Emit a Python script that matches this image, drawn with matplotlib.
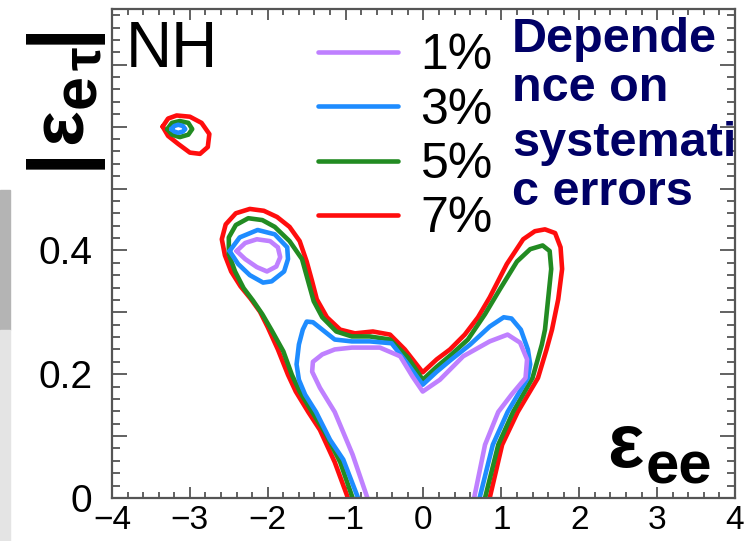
import matplotlib
matplotlib.use("Agg")
import matplotlib.pyplot as plt
from matplotlib.ticker import MultipleLocator
from matplotlib.patches import Rectangle

plt.rcParams['font.family'] = ['Liberation Sans', 'DejaVu Sans']

# contour outlines: x = eps_ee, y = |eps_etau|
red_x = [-0.97, -1.14, -1.33, -1.48, -1.64, -1.74, -1.87, -2.00, -2.10, -2.22, -2.35, -2.47, -2.55,
         -2.59, -2.54, -2.41, -2.23, -2.05, -1.88, -1.72, -1.59, -1.50, -1.43, -1.37, -1.24, -1.07,
         -0.88, -0.65, -0.43, -0.24, -0.01, 0.17, 0.34, 0.53, 0.70, 0.85, 1.07, 1.28, 1.43, 1.56,
         1.69, 1.76, 1.78, 1.73, 1.65, 1.58, 1.47, 1.21, 1.01, 0.85]
red_y = [0.000, 0.058, 0.110, 0.139, 0.172, 0.199, 0.240, 0.276, 0.301, 0.322, 0.342, 0.366, 0.392,
         0.418, 0.442, 0.460, 0.467, 0.464, 0.454, 0.438, 0.415, 0.382, 0.350, 0.321, 0.292, 0.272,
         0.266, 0.269, 0.264, 0.240, 0.203, 0.224, 0.240, 0.264, 0.292, 0.324, 0.378, 0.418, 0.431,
         0.434, 0.428, 0.405, 0.370, 0.321, 0.272, 0.240, 0.194, 0.139, 0.086, 0.000]

green_x = [-0.91, -1.07, -1.27, -1.43, -1.59, -1.69, -1.80, -1.95, -2.07, -2.19, -2.31, -2.42, -2.50,
           -2.50, -2.41, -2.25, -2.07, -1.91, -1.72, -1.56, -1.47, -1.41, -1.30, -1.12, -0.92, -0.69,
           -0.43, -0.20, -0.01, 0.17, 0.36, 0.57, 0.79, 0.98, 1.20, 1.37, 1.53, 1.62, 1.64, 1.60,
           1.56, 1.52, 1.40, 1.15, 0.96, 0.79]
green_y = [0.000, 0.058, 0.107, 0.139, 0.172, 0.199, 0.237, 0.271, 0.297, 0.319, 0.339, 0.366, 0.394,
           0.421, 0.441, 0.452, 0.449, 0.438, 0.415, 0.386, 0.345, 0.318, 0.292, 0.269, 0.261, 0.261,
           0.256, 0.227, 0.191, 0.212, 0.232, 0.256, 0.297, 0.337, 0.382, 0.402, 0.408, 0.399, 0.370,
           0.321, 0.272, 0.248, 0.194, 0.139, 0.086, 0.000]

blue_x = [-0.84, -1.03, -1.20, -1.38, -1.52, -1.60, -1.63, -1.60, -1.55, -1.50, -1.42, -1.30, -1.14,
          -0.92, -0.69, -0.41, -0.20, -0.01, 0.17, 0.36, 0.60, 0.85, 1.03, 1.13, 1.25, 1.34, 1.37,
          1.34, 1.08, 0.89, 0.72]
blue_y = [0.000, 0.062, 0.094, 0.139, 0.167, 0.191, 0.216, 0.248, 0.272, 0.285, 0.284, 0.272, 0.256,
          0.253, 0.253, 0.250, 0.216, 0.183, 0.204, 0.224, 0.248, 0.277, 0.292, 0.290, 0.272, 0.240,
          0.216, 0.194, 0.139, 0.086, 0.000]

purple_x = [-0.72, -0.91, -1.14, -1.33, -1.43, -1.42, -1.30, -1.14, -0.92, -0.56, -0.30, -0.14,
            -0.01, 0.21, 0.51, 0.85, 1.08, 1.24, 1.33, 1.31, 1.13, 0.96, 0.79, 0.65]
purple_y = [0.000, 0.070, 0.139, 0.178, 0.204, 0.220, 0.232, 0.240, 0.243, 0.243, 0.229, 0.196,
            0.172, 0.191, 0.229, 0.253, 0.264, 0.251, 0.224, 0.194, 0.167, 0.139, 0.086, 0.000]

# closed islands near (-2.2, 0.4)
blue_isl_x = [-2.49, -2.36, -2.13, -1.91, -1.75, -1.74, -1.79, -1.95, -2.06, -2.23, -2.38, -2.49]
blue_isl_y = [0.399, 0.421, 0.433, 0.426, 0.405, 0.386, 0.366, 0.350, 0.348, 0.360, 0.378, 0.399]
purple_isl_x = [-2.40, -2.29, -2.14, -1.97, -1.87, -1.84, -1.89, -2.01, -2.14, -2.29, -2.40]
purple_isl_y = [0.399, 0.412, 0.418, 0.415, 0.405, 0.389, 0.374, 0.366, 0.373, 0.386, 0.399]

# small islands near (-3.1, 0.6)
red_isl_x = [-3.35, -3.28, -3.17, -3.00, -2.85, -2.75, -2.77, -2.87, -3.00, -3.15, -3.28, -3.35]
red_isl_y = [0.600, 0.613, 0.618, 0.616, 0.606, 0.588, 0.567, 0.556, 0.558, 0.572, 0.585, 0.600]
green_isl_x = [-3.29, -3.23, -3.13, -3.02, -2.97, -3.02, -3.13, -3.23, -3.29]
green_isl_y = [0.596, 0.606, 0.609, 0.606, 0.596, 0.587, 0.583, 0.587, 0.596]
blue_isl2_x = [-3.24, -3.20, -3.15, -3.09, -3.06, -3.09, -3.15, -3.20, -3.24]
blue_isl2_y = [0.596, 0.601, 0.603, 0.601, 0.596, 0.592, 0.590, 0.592, 0.596]

levels = ['1%', '3%', '5%', '7%']
colors = ['#bf80ff', '#1e8cff', '#228b22', '#ff0d0d']

xticks = [-4, -3, -2, -1, 0, 1, 2, 3, 4]
yticks = [0, 0.1, 0.2, 0.3, 0.4, 0.5, 0.6, 0.7]
ytick_labels = ['0', '', '0.2', '', '0.4', '', '', '']

W, H = 755, 541


def fx(px):
    return px / W


def fy(py):
    return 1 - py / H


fig = plt.figure(figsize=(7.55, 5.41), dpi=100)
ax = fig.add_axes([fx(112), fy(498), fx(735) - fx(112), fy(9) - fy(498)])

lw = 3.3
kw = dict(lw=lw, solid_joinstyle='round', solid_capstyle='round')
l7, = ax.plot(red_x, red_y, color=colors[3], label=levels[3], **kw)
ax.plot(red_isl_x, red_isl_y, color=colors[3], **kw)
l5, = ax.plot(green_x, green_y, color=colors[2], label=levels[2], **kw)
ax.plot(green_isl_x, green_isl_y, color=colors[2], **kw)
l3, = ax.plot(blue_x, blue_y, color=colors[1], label=levels[1], **kw)
ax.plot(blue_isl_x, blue_isl_y, color=colors[1], **kw)
ax.plot(blue_isl2_x, blue_isl2_y, color=colors[1], **kw)
l1, = ax.plot(purple_x, purple_y, color=colors[0], label=levels[0], **kw)
ax.plot(purple_isl_x, purple_isl_y, color=colors[0], **kw)

ax.set_xlim(-4, 4)
ax.set_ylim(0, 0.79)
ax.set_xticks(xticks)
ax.set_yticks(yticks)
ax.set_yticklabels(ytick_labels)
ax.xaxis.set_minor_locator(MultipleLocator(0.2))
ax.yaxis.set_minor_locator(MultipleLocator(0.02))
ax.tick_params(which='both', direction='in', top=True, right=True, color='#555555', width=1.3)
ax.tick_params(axis='x', which='major', length=8, labelsize=24, pad=5)
ax.tick_params(axis='x', which='minor', length=4.5)
ax.tick_params(axis='y', which='major', length=11, labelsize=28, pad=14)
ax.tick_params(axis='y', which='minor', length=6)
for s in ax.spines.values():
    s.set_color('#555555')
    s.set_linewidth(1.6)

ax.legend(handles=[l1, l3, l5, l7], loc='upper left', bbox_to_anchor=(fx(318), fy(33)),
          bbox_transform=fig.transFigure, frameon=False, fontsize=36, handlelength=1.6,
          handletextpad=0.45, labelspacing=0.17, borderpad=0, borderaxespad=0)

# grey strip at the left edge of the screenshot
fig.patches.append(Rectangle((0, fy(330)), fx(10), fy(190) - fy(330), transform=fig.transFigure,
                             color='#b4b4b4', zorder=0))
fig.patches.append(Rectangle((0, 0), fx(10), fy(330), transform=fig.transFigure,
                             color='#e4e4e4', zorder=0))

fig.text(fx(126), fy(67), 'NH', fontsize=46, ha='left', va='baseline')

navy = '#000066'
for line, base in zip(['Depende', 'nce on', 'systemati', 'c errors'], [52, 101, 156, 205]):
    fig.text(fx(512), fy(base), line, fontsize=35, fontweight='bold', color=navy,
             ha='left', va='baseline')

fig.text(fx(607), fy(467), 'ε', fontsize=55, fontweight='bold', ha='left', va='baseline')
fig.text(fx(646), fy(483), 'ee', fontsize=43, fontweight='bold', ha='left', va='baseline')

# rotated |eps_etau| label
fig.text(fx(60), fy(32), '|', rotation=90, fontsize=60, fontweight='bold', ha='center', va='center')
fig.text(fx(62), fy(126), 'ε', rotation=90, fontsize=54, fontweight='bold', ha='center', va='center')
fig.text(fx(80), fy(91), 'e', rotation=90, fontsize=44, fontweight='bold', ha='center', va='center')
fig.text(fx(86), fy(58), 'τ', rotation=90, fontsize=38, fontweight='bold', ha='center', va='center')
fig.text(fx(60), fy(157), '|', rotation=90, fontsize=60, fontweight='bold', ha='center', va='center')

fig.savefig('out.png', dpi=100)
